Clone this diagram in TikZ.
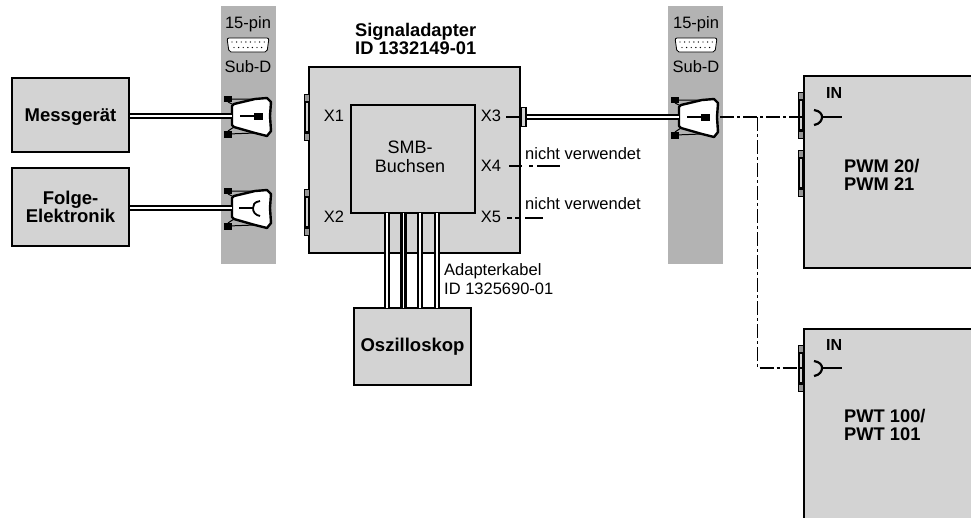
\documentclass[tikz,border=0pt]{standalone}
\usepackage{fontspec}
\setmainfont{Liberation Sans}
\usetikzlibrary{positioning, calc}
\definecolor{boxgrey}{RGB}{211,211,211}
\definecolor{stripgrey}{RGB}{179,179,179}
\definecolor{tabgrey}{RGB}{150,150,150}

\begin{document}
\begin{tikzpicture}[
    x=1pt, y=-1pt,
    device/.style={rectangle, draw=black, line width=2.4pt, fill=boxgrey, inner sep=0pt, align=center, font=\fontsize{18.5}{18.5}\selectfont\bfseries},
    strip/.style={rectangle, fill=stripgrey, minimum width=55pt, minimum height=258pt, inner sep=0pt},
    lbl/.style={inner sep=0pt, align=center, font=\fontsize{16.5}{18.5}\selectfont},
    lblb/.style={inner sep=0pt, align=left, font=\fontsize{16}{18}\selectfont\bfseries},
    lblc/.style={inner sep=0pt, align=left, font=\fontsize{18.3}{18}\selectfont\bfseries},
    cable/.style={double=white, double distance=1.8pt, line width=2.2pt, line cap=butt},
    sig/.style={line width=1.6pt, dash pattern=on 14pt off 3pt on 3pt off 3pt},
    sigfour/.style={line width=1.6pt, dash pattern=on 13pt off 7pt on 4pt off 4pt on 22pt off 0pt},
    sigfive/.style={line width=1.6pt, dash pattern=on 5pt off 3pt on 5pt off 5pt on 20pt off 0pt},
    subdshell/.pic={
        \draw[line width=2.4pt, fill=white, line join=round] (1,-10) -- (3,-12) -- (24,-17) -- (36,-18) -- (40,-14) -- (39,0) -- (40,15) -- (36,20) -- (24,17) -- (3,11) -- (1,9) -- cycle;
        \draw[line width=1pt] (-3,-17) -- (24,-17) (-3,-14) -- (3,-11) (-3,18) -- (24,17) (-3,15) -- (3,11);
        \fill (-7,-20) rectangle (1,-14);
        \fill (-7,15) rectangle (1,22);
        \coordinate (-in) at (1,0);
        \coordinate (-out) at (42,0);
    },
    malepin/.pic={
        \draw[line width=1.8pt] (9,0) -- (23,0);
        \fill (23,-3) rectangle (32,4);
    },
    femalepin/.pic={
        \draw[line width=1.8pt] (8,0) -- (22,0);
        \draw[line width=1.8pt] (29,-7) .. controls (23,-6) and (22,-3) .. (22,0) .. controls (22,4) and (24,7) .. (29,8);
    },
    subdicon/.pic={
        \draw[line width=0.8pt, fill=white, rounded corners=2pt] (-21,-7) -- (21,-7) -- (19,7) -- (-19,7) -- cycle;
        \foreach \i in {0,...,7} {\fill (-16+\i*4.6,-3) circle (0.7pt);}
        \foreach \i in {0,...,6} {\fill (-14+\i*4.6,2.5) circle (0.7pt);}
    },
    panelport/.pic={
        \draw[line width=1.5pt, fill=boxgrey] (-4,-15) rectangle (0,15);
        \draw[line width=0.7pt, fill=tabgrey] (-5,-23) rectangle (0,-16);
        \draw[line width=0.7pt, fill=tabgrey] (-5,16) rectangle (0,23);
    },
    inplug/.pic={
        \draw[line width=2.2pt] (0,-7) .. controls (6,-6) and (8,-3) .. (8,0) .. controls (8,3) and (6,7) .. (0,8);
        \draw[line width=2.2pt] (8,0) -- (28,0);
    },
]
\useasboundingbox (0,0) rectangle (971,517);

\node[strip] (stripl) at (248,135) {};
\node[strip] (stripr) at (695.5,135) {};

\node[device, minimum width=117pt, minimum height=74pt, text height=13pt, text depth=1pt] (messgeraet) at (70.5,115) {Messgerät};
\node[device, minimum width=117pt, minimum height=78pt] (folge) at (70.5,207) {Folge-\\Elektronik};
\node[device, minimum width=211pt, minimum height=186pt] (adapter) at (414.5,160) {};
\node[device, minimum width=124pt, minimum height=108pt] (smb) at (413,159) {};
\node[lbl, font=\fontsize{18}{19}\selectfont] (smbname) at (410,157) {SMB-\\Buchsen};
\node[device, minimum width=117pt, minimum height=77pt] (oszi) at (412.5,346.5) {Oszilloskop};
\node[device, minimum width=172pt, minimum height=192pt, anchor=north west] (pwm) at (803,75) {};
\node[device, minimum width=172pt, minimum height=190pt, anchor=north west] (pwt) at (803,328) {};

\node[lbl] (pinl) at (248,24) {15-pin};
\node[lbl] (subl) at (248,67) {Sub-D};
\node[lbl] (pinr) at (696,24) {15-pin};
\node[lbl] (subr) at (696,67) {Sub-D};
\pic at (248,45) {subdicon};
\pic at (696,45) {subdicon};

\node[lblc, anchor=west] (adaptertitle) at (355,39) {Signaladapter\\ID 1332149-01};
\node[lbl] (xone) at (334,116) {X1};
\node[lbl] (xtwo) at (334,217) {X2};
\node[lbl] (xthree) at (491,116) {X3};
\node[lbl] (xfour) at (491,166) {X4};
\node[lbl] (xfive) at (491,217) {X5};
\node[lbl, anchor=west] (nvone) at (525,154) {nicht verwendet};
\node[lbl, anchor=west] (nvtwo) at (525,204) {nicht verwendet};
\node[lbl, align=left, anchor=west] (kabel) at (444,279) {Adapterkabel\\ID 1325690-01};
\node[lblb, anchor=west] (in one) at (826,93) {IN};
\node[lblb, anchor=west] (in two) at (826,345) {IN};
\node[lblc, anchor=west] (pwmname) at (844,175) {PWM 20/\\PWM 21};
\node[lblc, anchor=west] (pwtname) at (844,425) {PWT 100/\\PWT 101};

\pic at (309,117) {panelport};
\pic at (309,212) {panelport};
\pic at (803,115) {panelport};
\pic at (803,173) {panelport};
\pic at (803,368) {panelport};

\node[draw=black, line width=1.2pt, fill=boxgrey, minimum width=5pt, minimum height=19pt, inner sep=0pt] (xport) at (523.5,117) {};

\pic (cona) at (231,116) {subdshell};
\pic at (231,116) {malepin};
\pic (conb) at (231,208) {subdshell};
\pic at (231,208) {femalepin};
\pic (conc) at (678,117) {subdshell};
\pic at (678,117) {malepin};

\pic (plugpwm) at (814,117) {inplug};
\pic (plugpwt) at (814,368) {inplug};
\coordinate (branch) at (757.5,117);
\coordinate (branchend) at (757.5,368);
\coordinate (xthreestart) at (506,117);
\coordinate (xfourstart) at (509,166);
\coordinate (xfourend) at (560,166);
\coordinate (xfivestart) at (507,218);
\coordinate (xfiveend) at (543,218);

\draw[cable] (messgeraet.east |- cona-in) -- (cona-in);
\draw[cable] (folge.east |- conb-in) -- (conb-in);
\draw[cable] (xport.east) -- (conc-in);
\foreach \x in {387,403.5,420,437} {
    \draw[cable] (\x,213) -- (\x,308);
}

\draw[line width=1.6pt] (xthreestart) -- (xport.west);
\draw[sigfour] (xfourstart) -- (xfourend);
\draw[sigfive] (xfivestart) -- (xfiveend);
\draw[sig] (conc-out) -- (branch) -- (805,117);
\draw[sig] (branch) -- (branchend) -- (805,368);

\end{tikzpicture}
\end{document}
